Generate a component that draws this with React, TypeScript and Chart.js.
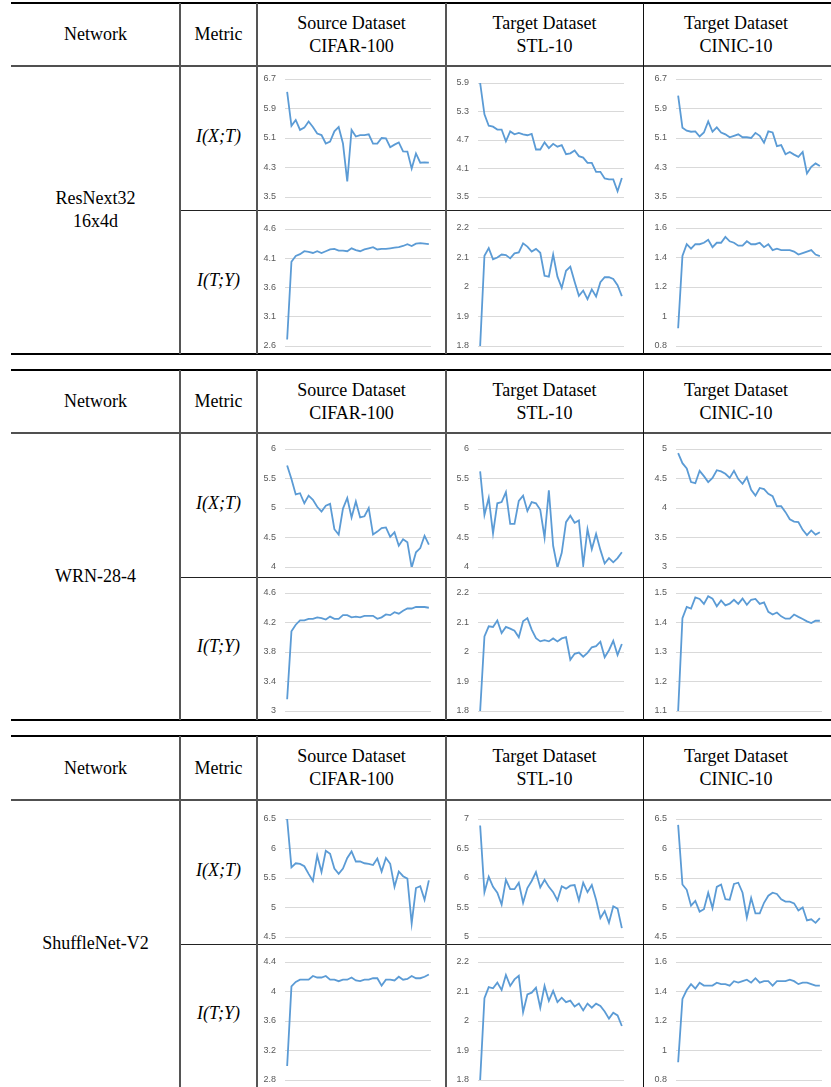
import React, { useEffect, useRef } from "react";
import { Chart, registerables } from "chart.js";

Chart.register(...registerables);

// ---------- DATA ----------
const epochs = [1, 2, 3, 4, 5, 6, 7, 8, 9, 10, 11, 12, 13, 14, 15, 16, 17, 18, 19, 20, 21, 22, 23, 24, 25, 26, 27, 28, 29, 30, 31, 32, 33, 34];

const networks = [["ResNext32", "16x4d"], ["WRN-28-4"], ["ShuffleNet-V2"]];
const headerNetwork = "Network";
const headerMetric = "Metric";
const datasetHeaders = [
  ["Source Dataset", "CIFAR-100"],
  ["Target Dataset", "STL-10"],
  ["Target Dataset", "CINIC-10"],
];
const metrics = ["I(X;T)", "I(T;Y)"];

// ResNext32 16x4d
const resnextCifarIXT = [6.35, 5.43, 5.59, 5.32, 5.38, 5.55, 5.40, 5.22, 5.18, 4.95, 5.00, 5.28, 5.40, 4.95, 3.92, 5.32, 5.14, 5.18, 5.18, 5.20, 4.95, 4.95, 5.10, 5.09, 4.85, 4.92, 4.98, 4.74, 4.73, 4.27, 4.68, 4.43, 4.44, 4.43];
const resnextStlIXT = [5.90, 5.24, 5.00, 4.98, 4.92, 4.92, 4.67, 4.88, 4.82, 4.85, 4.82, 4.80, 4.83, 4.50, 4.50, 4.65, 4.53, 4.62, 4.56, 4.59, 4.40, 4.42, 4.48, 4.36, 4.33, 4.22, 4.22, 4.03, 4.03, 3.89, 3.87, 3.87, 3.62, 3.90];
const resnextCinicIXT = [6.25, 5.38, 5.30, 5.27, 5.28, 5.14, 5.25, 5.55, 5.27, 5.39, 5.25, 5.20, 5.12, 5.16, 5.20, 5.12, 5.12, 5.10, 5.24, 5.16, 4.97, 5.28, 5.25, 4.88, 4.91, 4.66, 4.72, 4.65, 4.59, 4.72, 4.14, 4.32, 4.41, 4.34];
const resnextCifarITY = [2.71, 4.04, 4.14, 4.17, 4.22, 4.21, 4.19, 4.22, 4.19, 4.22, 4.25, 4.26, 4.23, 4.23, 4.22, 4.27, 4.24, 4.22, 4.25, 4.27, 4.29, 4.25, 4.26, 4.26, 4.27, 4.28, 4.29, 4.31, 4.34, 4.31, 4.35, 4.36, 4.35, 4.34];
const resnextStlITY = [1.80, 2.106, 2.132, 2.094, 2.10, 2.11, 2.108, 2.097, 2.114, 2.117, 2.148, 2.137, 2.12, 2.129, 2.116, 2.038, 2.035, 2.11, 2.035, 1.997, 2.055, 2.069, 2.018, 1.97, 1.988, 1.959, 1.992, 1.968, 2.016, 2.033, 2.033, 2.027, 2.006, 1.969];
const resnextCinicITY = [0.92, 1.41, 1.49, 1.46, 1.49, 1.49, 1.50, 1.52, 1.47, 1.50, 1.50, 1.54, 1.51, 1.50, 1.48, 1.48, 1.51, 1.49, 1.49, 1.50, 1.47, 1.49, 1.45, 1.46, 1.45, 1.45, 1.45, 1.44, 1.42, 1.43, 1.44, 1.45, 1.42, 1.41];

// WRN-28-4
const wrnCifarIXT = [5.72, 5.49, 5.23, 5.25, 5.08, 5.21, 5.14, 5.02, 4.94, 5.04, 5.07, 4.64, 4.55, 4.99, 5.17, 4.84, 5.11, 4.84, 4.86, 5.00, 4.55, 4.60, 4.66, 4.67, 4.51, 4.59, 4.36, 4.47, 4.42, 3.99, 4.25, 4.32, 4.53, 4.38];
const wrnStlIXT = [5.62, 4.88, 5.17, 4.57, 5.08, 5.10, 5.27, 4.73, 4.73, 5.12, 5.21, 4.95, 5.10, 5.08, 4.97, 4.50, 5.30, 4.36, 3.99, 4.24, 4.76, 4.87, 4.75, 4.79, 4.03, 4.64, 4.30, 4.56, 4.29, 4.06, 4.15, 4.08, 4.15, 4.25];
const wrnCinicIXT = [4.93, 4.76, 4.67, 4.44, 4.42, 4.63, 4.54, 4.44, 4.51, 4.64, 4.62, 4.58, 4.51, 4.63, 4.49, 4.41, 4.52, 4.31, 4.21, 4.34, 4.32, 4.24, 4.20, 4.03, 4.03, 3.93, 3.81, 3.77, 3.76, 3.63, 3.54, 3.62, 3.55, 3.59];
const wrnCifarITY = [3.16, 4.08, 4.17, 4.23, 4.23, 4.25, 4.25, 4.27, 4.26, 4.24, 4.28, 4.25, 4.25, 4.30, 4.30, 4.27, 4.28, 4.27, 4.29, 4.29, 4.29, 4.25, 4.27, 4.31, 4.30, 4.34, 4.32, 4.36, 4.39, 4.39, 4.41, 4.41, 4.41, 4.40];
const wrnStlITY = [1.80, 2.053, 2.087, 2.085, 2.107, 2.064, 2.085, 2.079, 2.072, 2.05, 2.104, 2.115, 2.076, 2.047, 2.036, 2.04, 2.036, 2.046, 2.036, 2.046, 2.05, 1.974, 1.994, 1.998, 1.984, 1.997, 2.016, 2.02, 2.035, 1.982, 2.006, 2.038, 1.99, 2.027];
const wrnCinicITY = [1.10, 1.415, 1.453, 1.447, 1.485, 1.48, 1.463, 1.489, 1.481, 1.455, 1.475, 1.458, 1.464, 1.477, 1.463, 1.481, 1.46, 1.477, 1.48, 1.463, 1.468, 1.436, 1.427, 1.434, 1.421, 1.413, 1.413, 1.427, 1.419, 1.412, 1.404, 1.398, 1.406, 1.406];

// ShuffleNet-V2
const shuffleCifarIXT = [6.50, 5.68, 5.75, 5.74, 5.70, 5.57, 5.45, 5.88, 5.60, 5.96, 5.91, 5.66, 5.57, 5.66, 5.84, 5.95, 5.78, 5.78, 5.75, 5.74, 5.72, 5.83, 5.61, 5.84, 5.74, 5.35, 5.61, 5.53, 5.49, 4.73, 5.33, 5.36, 5.13, 5.46];
const shuffleStlIXT = [6.89, 5.76, 6.02, 5.85, 5.75, 5.55, 5.97, 5.81, 5.81, 5.92, 5.58, 5.83, 5.95, 6.10, 5.84, 5.97, 5.85, 5.76, 5.62, 5.86, 5.82, 5.87, 5.88, 5.62, 5.92, 5.76, 5.88, 5.63, 5.32, 5.44, 5.24, 5.52, 5.48, 5.15];
const shuffleCinicIXT = [6.40, 5.39, 5.30, 5.03, 5.11, 4.93, 4.97, 5.25, 4.99, 5.35, 5.39, 5.14, 5.13, 5.40, 5.42, 5.25, 4.83, 5.16, 4.90, 4.90, 5.08, 5.20, 5.25, 5.23, 5.14, 5.10, 5.10, 5.07, 4.95, 5.00, 4.78, 4.80, 4.74, 4.82];
const shuffleCifarITY = [2.99, 4.07, 4.13, 4.16, 4.16, 4.16, 4.21, 4.19, 4.19, 4.21, 4.16, 4.16, 4.14, 4.16, 4.16, 4.19, 4.15, 4.14, 4.16, 4.16, 4.18, 4.18, 4.08, 4.16, 4.16, 4.15, 4.20, 4.16, 4.17, 4.21, 4.18, 4.18, 4.20, 4.23];
const shuffleStlITY = [1.80, 2.077, 2.115, 2.111, 2.13, 2.105, 2.156, 2.119, 2.141, 2.153, 2.03, 2.09, 2.096, 2.113, 2.045, 2.119, 2.068, 2.102, 2.064, 2.079, 2.064, 2.069, 2.049, 2.059, 2.036, 2.059, 2.045, 2.059, 2.051, 2.032, 2.008, 2.028, 2.019, 1.983];
const shuffleCinicITY = [0.92, 1.35, 1.41, 1.45, 1.42, 1.46, 1.44, 1.44, 1.44, 1.46, 1.45, 1.45, 1.44, 1.47, 1.46, 1.47, 1.48, 1.46, 1.49, 1.46, 1.47, 1.47, 1.44, 1.47, 1.47, 1.47, 1.48, 1.47, 1.45, 1.46, 1.46, 1.45, 1.44, 1.44];

// y-axis tick labels
const resnextCifarIXTTicks = [3.5, 4.3, 5.1, 5.9, 6.7];
const resnextStlIXTTicks = [3.5, 4.1, 4.7, 5.3, 5.9];
const resnextCinicIXTTicks = [3.5, 4.3, 5.1, 5.9, 6.7];
const resnextCifarITYTicks = [2.6, 3.1, 3.6, 4.1, 4.6];
const resnextStlITYTicks = [1.8, 1.9, 2, 2.1, 2.2];
const resnextCinicITYTicks = [0.8, 1, 1.2, 1.4, 1.6];
const wrnCifarIXTTicks = [4, 4.5, 5, 5.5, 6];
const wrnStlIXTTicks = [4, 4.5, 5, 5.5, 6];
const wrnCinicIXTTicks = [3, 3.5, 4, 4.5, 5];
const wrnCifarITYTicks = [3, 3.4, 3.8, 4.2, 4.6];
const wrnStlITYTicks = [1.8, 1.9, 2, 2.1, 2.2];
const wrnCinicITYTicks = [1.1, 1.2, 1.3, 1.4, 1.5];
const shuffleCifarIXTTicks = [4.5, 5, 5.5, 6, 6.5];
const shuffleStlIXTTicks = [5, 5.5, 6, 6.5, 7];
const shuffleCinicIXTTicks = [4.5, 5, 5.5, 6, 6.5];
const shuffleCifarITYTicks = [2.8, 3.2, 3.6, 4, 4.4];
const shuffleStlITYTicks = [1.8, 1.9, 2, 2.1, 2.2];
const shuffleCinicITYTicks = [0.8, 1, 1.2, 1.4, 1.6];

// ---------- LAYOUT ----------
const SERIF = "'Liberation Serif', 'Times New Roman', serif";
const TABLES = [
  { top: 3, head: 66, mid: 210, bottom: 354, plotY: [[[79, 197], [83, 197], [79, 197]], [[229, 346], [228, 346], [228, 346]]] },
  { top: 370, head: 433, mid: 577, bottom: 720, plotY: [[[449, 567], [449, 567], [449, 567]], [[593, 711], [593, 711], [593, 711]]] },
  { top: 736, head: 800, mid: 944, bottom: 1087, plotY: [[[819, 937], [819, 937], [819, 937]], [[962, 1080], [962, 1080], [962, 1080]]] },
];
const TABLE_LEFT = 11;
const TABLE_RIGHT = 831;
const COL_LINES = [180, 257, 446, 643];
const COL_EDGES = [TABLE_LEFT, 180, 257, 446, 643, 829];
const PLOT_X = [285, 478, 676];
const PLOT_W = 146;

const seriesGrid = [
  [[resnextCifarIXT, resnextStlIXT, resnextCinicIXT], [resnextCifarITY, resnextStlITY, resnextCinicITY]],
  [[wrnCifarIXT, wrnStlIXT, wrnCinicIXT], [wrnCifarITY, wrnStlITY, wrnCinicITY]],
  [[shuffleCifarIXT, shuffleStlIXT, shuffleCinicIXT], [shuffleCifarITY, shuffleStlITY, shuffleCinicITY]],
];
const ticksGrid = [
  [[resnextCifarIXTTicks, resnextStlIXTTicks, resnextCinicIXTTicks], [resnextCifarITYTicks, resnextStlITYTicks, resnextCinicITYTicks]],
  [[wrnCifarIXTTicks, wrnStlIXTTicks, wrnCinicIXTTicks], [wrnCifarITYTicks, wrnStlITYTicks, wrnCinicITYTicks]],
  [[shuffleCifarIXTTicks, shuffleStlIXTTicks, shuffleCinicIXTTicks], [shuffleCifarITYTicks, shuffleStlITYTicks, shuffleCinicITYTicks]],
];

const PAD_L = 6;
const AXIS_W = 22;
const PAD_T = 10;
const PAD_B = 10;
const PAD_R = 4;

function MiniChart(props: { values: number[]; ticks: number[]; px: number; py: number; pw: number; ph: number }) {
  const { values, ticks, px, py, pw, ph } = props;
  const ref = useRef<HTMLCanvasElement>(null);
  const cw = PAD_L + AXIS_W + pw + PAD_R;
  const chh = PAD_T + ph + PAD_B;
  useEffect(() => {
    const chart = new Chart(ref.current as HTMLCanvasElement, {
      type: "line",
      data: {
        labels: epochs,
        datasets: [
          {
            data: values,
            borderColor: "#5b9bd5",
            borderWidth: 1.8,
            pointRadius: 0,
            tension: 0,
            fill: false,
          },
        ],
      },
      options: {
        animation: false,
        responsive: false,
        maintainAspectRatio: false,
        events: [],
        layout: { padding: { left: PAD_L, top: PAD_T, right: PAD_R, bottom: PAD_B } },
        plugins: { legend: { display: false }, tooltip: { enabled: false } },
        scales: {
          x: {
            type: "category",
            offset: true,
            display: false,
            ticks: { display: false },
            grid: { display: false },
            afterFit: (s: any) => {
              s.height = 0;
              s.paddingLeft = 0;
              s.paddingRight = 0;
            },
          },
          y: {
            min: ticks[0],
            max: ticks[ticks.length - 1],
            grid: { color: "#d9d9d9", lineWidth: 1, drawTicks: false },
            border: { display: false },
            ticks: {
              padding: 9,
              color: "#595959",
              font: { family: "'Liberation Sans', Arial, sans-serif", size: 9 },
              callback: (v: any) => String(parseFloat(Number(v).toFixed(2))),
            },
            afterBuildTicks: (s: any) => {
              s.ticks = ticks.map((v) => ({ value: v }));
            },
            afterFit: (s: any) => {
              s.width = AXIS_W;
              s.paddingTop = 0;
              s.paddingBottom = 0;
            },
          },
        },
      } as any,
    });
    return () => chart.destroy();
  }, []);
  return (
    <canvas
      ref={ref}
      width={cw}
      height={chh}
      style={{ position: "absolute", left: px - PAD_L - AXIS_W, top: py - PAD_T, width: cw, height: chh }}
    />
  );
}

function HLine(p: { x1: number; x2: number; y: number; t: number; c: string }) {
  return <div style={{ position: "absolute", left: p.x1, top: p.y - p.t / 2, width: p.x2 - p.x1, height: p.t, background: p.c }} />;
}
function VLine(p: { x: number; y1: number; y2: number; t: number; c: string }) {
  return <div style={{ position: "absolute", left: p.x - p.t / 2, top: p.y1, width: p.t, height: p.y2 - p.y1, background: p.c }} />;
}
function Cell(p: { x1: number; x2: number; y1: number; y2: number; lines: string[]; italic?: boolean; dy?: number }) {
  return (
    <div
      style={{
        position: "absolute",
        left: p.x1,
        top: p.y1 + (p.dy || 0),
        width: p.x2 - p.x1,
        height: p.y2 - p.y1,
        display: "flex",
        flexDirection: "column",
        alignItems: "center",
        justifyContent: "center",
        textAlign: "center",
        fontFamily: SERIF,
        fontSize: 18,
        lineHeight: "23px",
        fontStyle: p.italic ? "italic" : "normal",
        color: "#000",
        whiteSpace: "nowrap",
      }}
    >
      {p.lines.map((l, i) => (
        <div key={i}>{l}</div>
      ))}
    </div>
  );
}

export default function App() {
  const elems: any[] = [];
  TABLES.forEach((t, ti) => {
    // header
    elems.push(<Cell key={`hn${ti}`} x1={COL_EDGES[0]} x2={COL_EDGES[1]} y1={t.top} y2={t.head} lines={[headerNetwork]} />);
    elems.push(<Cell key={`hm${ti}`} x1={COL_EDGES[1]} x2={COL_EDGES[2]} y1={t.top} y2={t.head} lines={[headerMetric]} />);
    datasetHeaders.forEach((h, ci) => {
      elems.push(<Cell key={`hd${ti}${ci}`} x1={COL_EDGES[2 + ci]} x2={COL_EDGES[3 + ci]} y1={t.top} y2={t.head} lines={h} />);
    });
    // network name
    elems.push(<Cell key={`nn${ti}`} x1={COL_EDGES[0]} x2={COL_EDGES[1]} y1={t.head} y2={t.bottom} lines={networks[ti]} />);
    // metrics
    elems.push(<Cell key={`m0${ti}`} x1={COL_EDGES[1]} x2={COL_EDGES[2]} y1={t.head} y2={t.mid} lines={[metrics[0]]} italic dy={-2} />);
    elems.push(<Cell key={`m1${ti}`} x1={COL_EDGES[1]} x2={COL_EDGES[2]} y1={t.mid} y2={t.bottom} lines={[metrics[1]]} italic dy={-2} />);
    // charts
    for (let r = 0; r < 2; r++) {
      for (let c = 0; c < 3; c++) {
        const [y1, y2] = t.plotY[r][c];
        elems.push(
          <MiniChart
            key={`c${ti}${r}${c}`}
            values={seriesGrid[ti][r][c]}
            ticks={ticksGrid[ti][r][c]}
            px={PLOT_X[c]}
            py={y1}
            pw={PLOT_W}
            ph={y2 - y1}
          />
        );
      }
    }
    // lines
    elems.push(<HLine key={`lt${ti}`} x1={TABLE_LEFT} x2={TABLE_RIGHT} y={t.top} t={2} c="#000" />);
    elems.push(<HLine key={`lh${ti}`} x1={TABLE_LEFT} x2={TABLE_RIGHT} y={t.head} t={1.5} c="#505050" />);
    elems.push(<HLine key={`lm${ti}`} x1={COL_LINES[0]} x2={TABLE_RIGHT} y={t.mid} t={1} c="#222" />);
    if (ti < 2) elems.push(<HLine key={`lb${ti}`} x1={TABLE_LEFT} x2={TABLE_RIGHT} y={t.bottom} t={2} c="#000" />);
    COL_LINES.forEach((x, li) => {
      elems.push(
        <VLine key={`v${ti}${li}`} x={x} y1={t.top} y2={t.bottom} t={li === 3 ? 1 : 1.5} c={li === 3 ? "#111" : "#555"} />
      );
    });
  });
  return (
    <div style={{ position: "absolute", left: 0, top: 0, width: 831, height: 1087, background: "#fff", overflow: "hidden" }}>
      {elems}
    </div>
  );
}
